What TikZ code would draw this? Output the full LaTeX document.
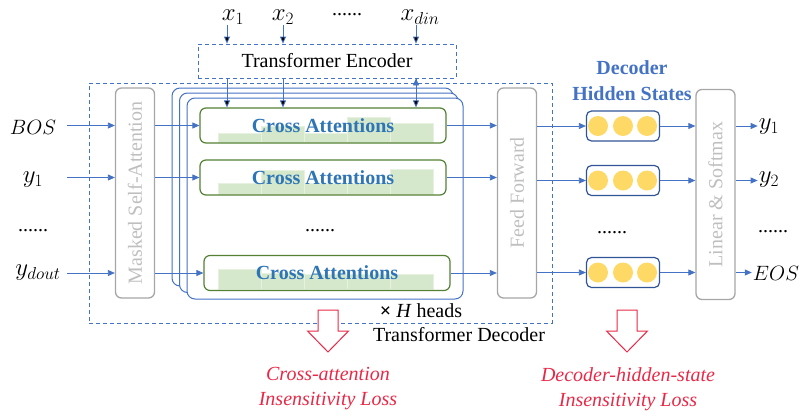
\documentclass[tikz,border=0pt]{standalone}
\usepackage{fontspec}
\setmainfont{Liberation Serif}
\usetikzlibrary{positioning,arrows.meta}

\definecolor{lineblue}{RGB}{68,114,196}
\definecolor{textblue}{RGB}{46,117,182}
\definecolor{boxgray}{RGB}{166,166,166}
\definecolor{fontgray}{RGB}{191,191,191}
\definecolor{attgreen}{RGB}{84,130,53}
\definecolor{barfill}{RGB}{213,232,204}
\definecolor{hidblue}{RGB}{47,85,151}
\definecolor{dotyellow}{RGB}{255,217,102}
\definecolor{lossred}{RGB}{232,40,70}

\tikzset{
  >={Triangle[length=7pt,width=6pt]},
  flow/.style={->, draw=lineblue, line width=0.8pt},
  big/.style={font=\fontsize{20}{24}\selectfont},
  sym/.style={font=\fontsize{23}{27}\selectfont, inner sep=1pt},
  token/.style={font=\fontsize{20}{24}\selectfont, inner sep=1pt},
  dots/.style={font=\fontsize{20}{24}\selectfont, anchor=base},
  dashbox/.style={draw=lineblue, dash pattern=on 4pt off 3pt, line width=0.8pt},
  layer/.style={draw=boxgray, line width=1.3pt, rounded corners=6pt, text=fontgray,
    font=\fontsize{20}{24}\selectfont, minimum width=39pt, minimum height=210pt, inner sep=0pt},
  headbox/.style={draw=lineblue, line width=1pt, fill=white, rounded corners=8pt},
  attbox/.style={draw=attgreen, line width=1.2pt, rounded corners=6pt, minimum width=246pt,
    minimum height=35pt, text=textblue, font=\fontsize{20}{24}\selectfont\bfseries},
  hidbox/.style={draw=hidblue, line width=1.2pt, rounded corners=5pt, minimum width=73pt, minimum height=30pt},
  lossarrow/.style={draw=lossred, fill=white, line width=1pt},
  losstext/.style={text=lossred, align=center, font=\fontsize{20}{25}\selectfont\itshape}
}

\begin{document}
\begin{tikzpicture}[x=1pt, y=-1pt]
  \useasboundingbox (0,0) rectangle (801,416);

  \node [sym] (x1) at (233,17) {$x_1$};
  \node [sym] (x2) at (283,17) {$x_2$};
  \node [dots] at (347,15) {......};
  \node [sym] (xdin) at (420,17) {$x_{din}$};
  \node [dashbox, big, minimum width=258pt, minimum height=34pt] (enc) at (327,61) {Transformer Encoder};
  \node [dashbox, minimum width=463pt, minimum height=240pt] (dec) at (320.5,203) {};

  \node [layer] (msa) at (135,193) {\rotatebox{90}{Masked Self-Attention}};
  \node [layer] (ff) at (517,193) {\rotatebox{90}{Feed Forward}};
  \node [layer] (lin) at (715.5,194.5) {\rotatebox{90}{Linear \& Softmax}};

  \foreach \s in {0,1,2}
    \draw [headbox] (172+7.5*\s,88+5*\s) rectangle (453+5*\s,286+6.5*\s);

  \foreach \bot/\tops in {142/{133,126,133,117,123},194/{183,170,183,183,169},289/{269,273,274,274,274}}
    \foreach \t [count=\i from 0] in \tops
      \draw [fill=barfill, draw=barfill!60!white, line width=0.6pt] (218+43*\i,\t) rectangle (261+43*\i,\bot);

  \node [attbox] (ca1) at (323,125.5) {Cross Attentions};
  \node [attbox] (ca2) at (323,177.5) {Cross Attentions};
  \node [dots] at (320,231) {......};
  \node [attbox] (ca3) at (327,273) {Cross Attentions};

  \node [big] at (421,311) {\textbf{×} \textit{H} heads};
  \node [big] at (459,335) {Transformer Decoder};

  \node [text=lineblue, font=\fontsize{20}{26}\selectfont\bfseries, align=center] at (632,81) {Decoder\\Hidden States};
  \node [hidbox] (hs1) at (623,126) {};
  \node [hidbox] (hs2) at (623,180.5) {};
  \node [dots] at (612,233) {......};
  \node [hidbox] (hs3) at (623,272.5) {};
  \foreach \h in {hs1,hs2,hs3}
    \foreach \dx in {-25,0,24}
      \fill [dotyellow] ([xshift=\dx pt]\h.center) circle (10pt);

  \node [token] (bos) at (33,127) {$BOS$};
  \node [sym] (yone) at (33,180) {$y_1$};
  \node [dots] at (33,231) {......};
  \node [sym] (ydout) at (38,273) {$y_{dout}$};

  \node [sym] (out1) at (769,127) {$y_1$};
  \node [sym] (out2) at (769,180) {$y_2$};
  \node [dots] at (773,232) {......};
  \node [token] (eos) at (776,273) {$EOS$};

  \path[flow]
    ([xshift=-6pt]x1.south) edge ([xshift=-6pt]x1.south |- enc.north)
    (x2.south) edge (x2.south |- enc.north)
    ([xshift=-4pt]xdin.south) edge ([xshift=-4pt]xdin.south |- enc.north)
    ([xshift=-6pt]x1.south |- enc.south) edge ([xshift=-6pt]x1.south |- ca1.north)
    (x2.south |- enc.south) edge (x2.south |- ca1.north)
    ([xshift=-4pt]xdin.south |- enc.south) edge ([xshift=-4pt]xdin.south |- ca1.north)
    ;

  \foreach \src/\ca/\hs/\dst in {bos/ca1/hs1/out1, yone/ca2/hs2/out2, ydout/ca3/hs3/eos} {
    \draw [flow] ([xshift=-22pt]dec.west |- \ca.west) -- (\ca.west -| msa.west);
    \draw [flow] (\ca.west -| msa.east) -- (\ca.west);
    \draw [flow] (\ca.east) -- (\ca.east -| ff.west);
    \draw [flow] (\hs.west -| ff.east) -- (\hs.west);
    \draw [flow] (\hs.east) -- (\hs.east -| lin.west);
    \draw [flow] (\hs.east -| lin.east) -- (\dst.west |- \hs.east);
  }

  \coordinate (caloss) at (328,310);
  \coordinate (hsloss) at (627,310);
  \foreach \c in {caloss,hsloss}
    \draw [lossarrow] (\c) ++(-10,0) -- ++(20,0) -- ++(0,21) -- ++(10.5,0) -- ++(-20.5,21)
      -- ++(-20.5,-21) -- ++(10.5,0) -- cycle;
  \node [losstext] at (328,389) {Cross-attention\\Insensitivity Loss};
  \node [losstext] at (628,389) {Decoder-hidden-state\\Insensitivity Loss};
\end{tikzpicture}
\end{document}
